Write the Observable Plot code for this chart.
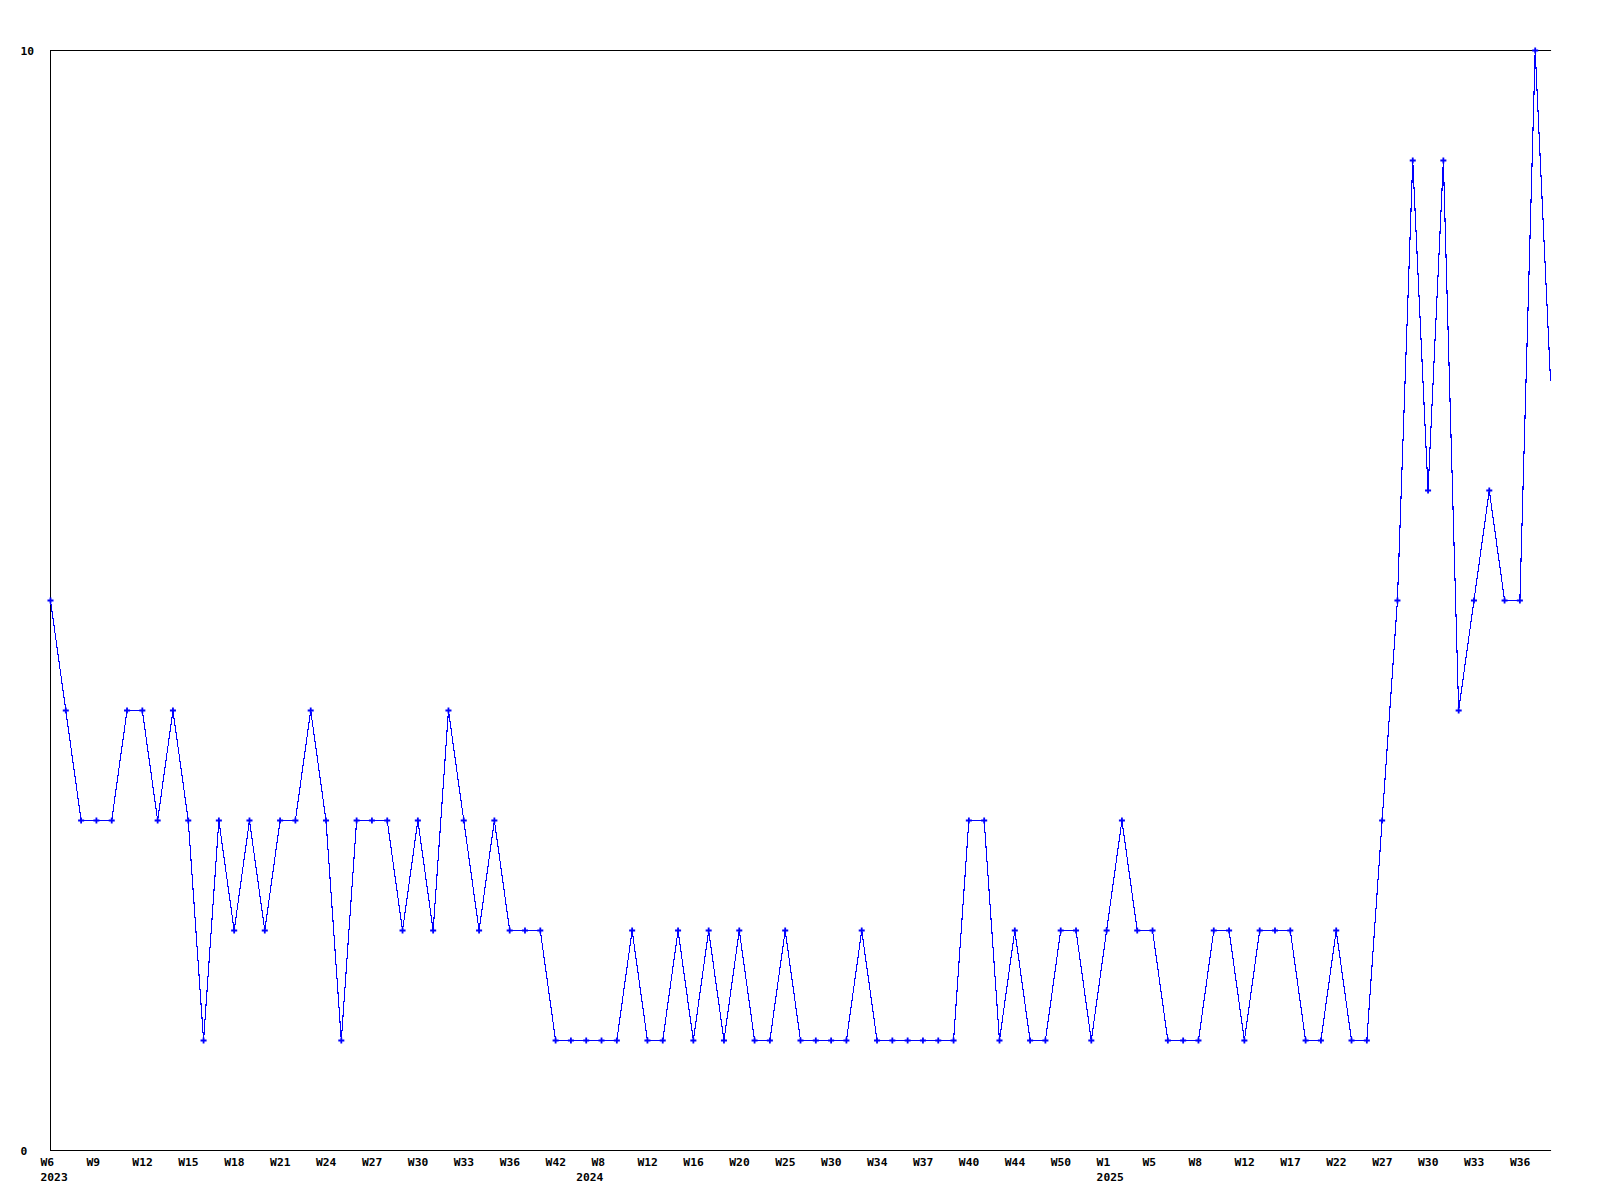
<!DOCTYPE html>
<html>
<head>
<meta charset="utf-8">
<script src="https://cdn.jsdelivr.net/npm/d3@7"></script>
<script src="https://cdn.jsdelivr.net/npm/@observablehq/plot@0.6"></script>
<style>
  html, body { margin: 0; padding: 0; background: #ffffff; }
  svg { display: block; }
</style>
</head>
<body>
<div id="chart"></div>
<script>
// Weekly values (one per data week, in order)
const values = [
  5, 4, 3, 3, 3, 4, 4, 3, 4, 3,
  1, 3, 2, 3, 2, 3, 3, 4, 3, 1,
  3, 3, 3, 2, 3, 2, 4, 3, 2, 3,
  2, 2, 2, 1, 1, 1, 1, 1, 2, 1,
  1, 2, 1, 2, 1, 2, 1, 1, 2, 1,
  1, 1, 1, 2, 1, 1, 1, 1, 1, 1,
  3, 3, 1, 2, 1, 1, 2, 2, 1, 2,
  3, 2, 2, 1, 1, 1, 2, 2, 1, 2,
  2, 2, 1, 1, 2, 1, 1, 3, 5, 9,
  6, 9, 4, 5, 6, 5, 5, 10, 7
];

// Week tick labels, one every 3 data weeks
const tickStep = 3;
const weekTicks = [
  "W6", "W9", "W12", "W15", "W18", "W21", "W24", "W27", "W30", "W33", "W36", "W42",
  "W8", "W12", "W16", "W20", "W25", "W30", "W34", "W37", "W40", "W44", "W50",
  "W1", "W5", "W8", "W12", "W17", "W22", "W27", "W30", "W33", "W36"
];
// Year labels at the first data week of each year (index into values)
const yearStarts = [0, 35, 69];
const yearNames = ["2023", "2024", "2025"];
const yTicks = [0, 10];

const points = values.map((v, i) => ({i, v}));
const markerPoints = points.slice(0, points.length - 1);
const weekLabelData = weekTicks.map((label, k) => ({i: k * tickStep, label}));
const yearLabelData = yearNames.map((label, k) => ({i: yearStarts[k], label}));

const font = "'DejaVu Sans Mono', 'Liberation Mono', monospace";

const chart = Plot.plot({
  width: 1600,
  height: 1200,
  marginLeft: 50,
  marginRight: 50,
  marginTop: 50,
  marginBottom: 50,
  style: {background: "#ffffff", fontFamily: font},
  x: {domain: [0, values.length - 1], axis: null},
  y: {domain: [0, 10], axis: null},
  marks: [
    Plot.ruleY([0, 10], {stroke: "#000000", strokeWidth: 1, x1: 0, x2: values.length - 1 + 0.07}),
    Plot.ruleX([0], {stroke: "#000000", strokeWidth: 1, y1: 0, y2: 10}),
    Plot.line(points, {x: "i", y: "v", stroke: "#0000ff", strokeWidth: 1.1, shapeRendering: "crispEdges"}),
    Plot.dot(markerPoints, {x: "i", y: "v", symbol: "plus", r: 2.1, stroke: "#0000ff", strokeWidth: 1.8, fill: "none"}),
    Plot.text(weekLabelData, {
      x: "i", y: () => 0, text: "label", textAnchor: "start", dx: -10, dy: 12,
      fontSize: 11.3, fontWeight: "bold", fontFamily: font, fill: "#000000"
    }),
    Plot.text(yearLabelData, {
      x: "i", y: () => 0, text: "label", textAnchor: "start", dx: -10, dy: 27,
      fontSize: 11.3, fontWeight: "bold", fontFamily: font, fill: "#000000"
    }),
    Plot.text(yTicks, {
      y: d => d, text: d => String(d), frameAnchor: "left", textAnchor: "start", dx: -30, dy: 1,
      fontSize: 11.3, fontWeight: "bold", fontFamily: font, fill: "#000000"
    })
  ]
});

document.getElementById("chart").appendChild(chart);
</script>
</body>
</html>
